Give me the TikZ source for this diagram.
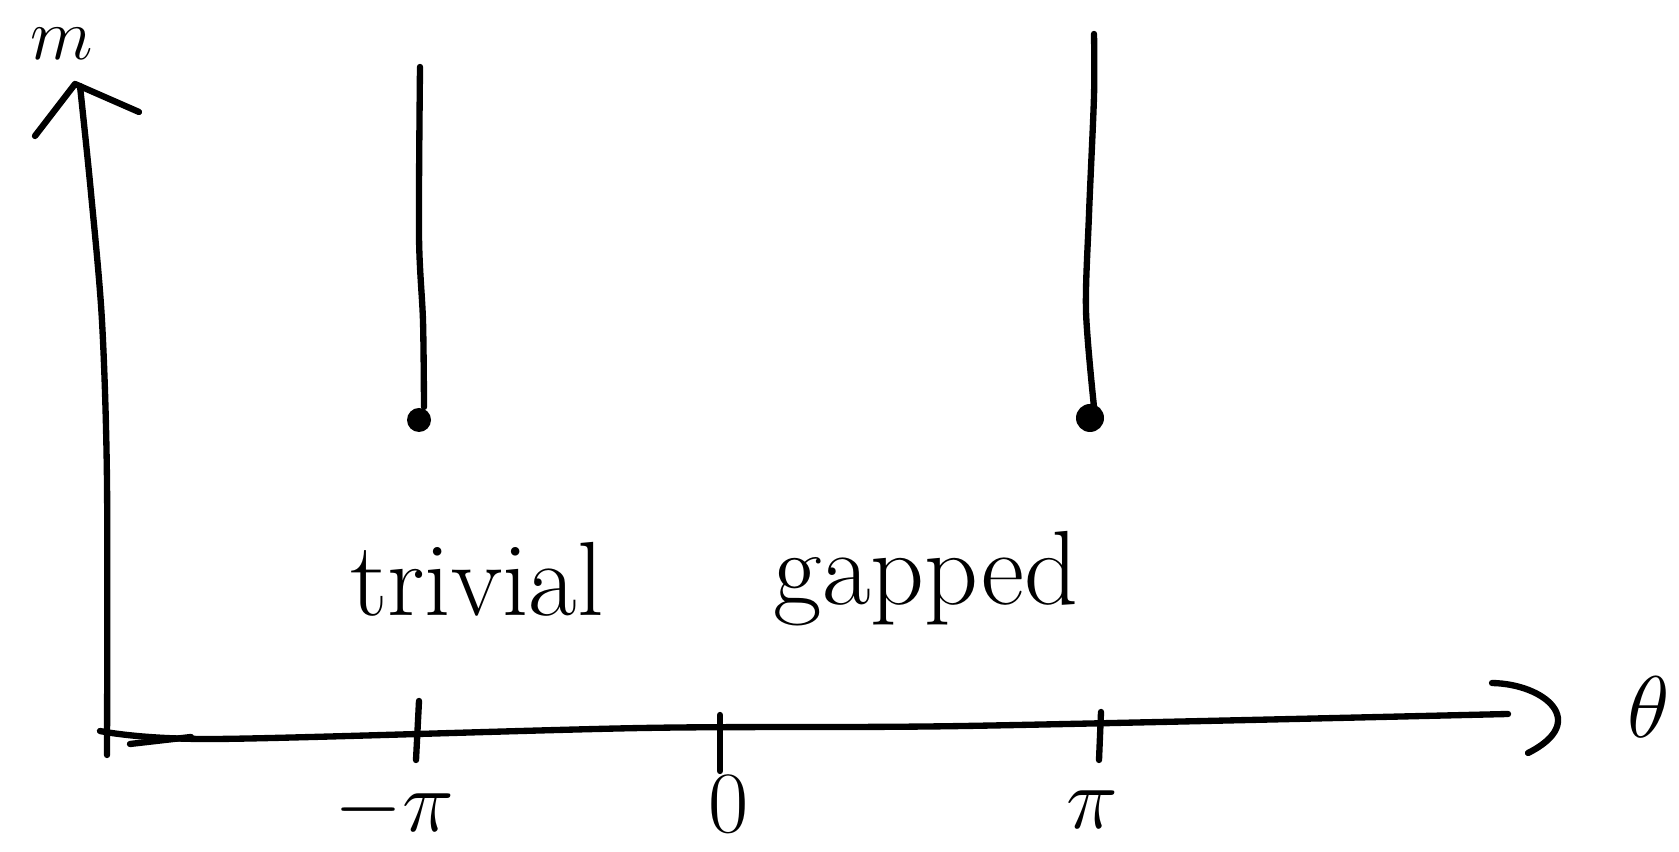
\documentclass[tikz,border=0pt]{standalone}
\begin{document}
\begin{tikzpicture}[x=0.01cm, y=0.01cm, line width=1.8pt, line cap=round, line join=round,
  big/.style={font=\fontsize{30}{36}\selectfont},
  tick/.style={font=\fontsize{26}{30}\selectfont}]
  \useasboundingbox (0,0) rectangle (1679,852);
  % eje m (vertical)
  \draw plot[smooth] coordinates {(107,97) (107,370) (102,531) (91,659) (80,766)};
  \draw (35,716) -- (75,768) -- (139,740);
  \node[font=\fontsize{22}{26}\selectfont] (mlab) at (62,808) {$m$};
  % eje theta (horizontal)
  \draw plot[smooth] coordinates {(100,121) (214,113) (642,124) (964,126) (1508,138)};
  \draw (130,108) -- (191,115);
  \draw (1492,169) .. controls (1545,168) and (1590,130) .. (1528,99);
  \node[big] (thlab) at (1649,145) {$\theta$};
  % marcas
  \draw (419,151) -- (416,92);
  \draw (720,137) -- (720,81);
  \draw (1101,140) -- (1099,92);
  \node[tick] (mpi) at (394,42) {$-\pi$};
  \node[tick] (zero) at (729,48) {$0$};
  \node[tick] (ppi) at (1092,42) {$\pi$};
  % lineas verticales con punto
  \draw plot[smooth] coordinates {(420,785) (419,616) (423,531) (424,445)};
  \fill (419,432) circle (12);
  \draw plot[smooth] coordinates {(1094,818) (1094,756) (1089,638) (1086,541) (1094,445)};
  \fill (1090,434) circle (14);
  % fases
  \node[big, anchor=base] (triv) at (477,236) {trivial};
  \node[big, anchor=base] (gap) at (926,247) {gapped};
\end{tikzpicture}
\end{document}
